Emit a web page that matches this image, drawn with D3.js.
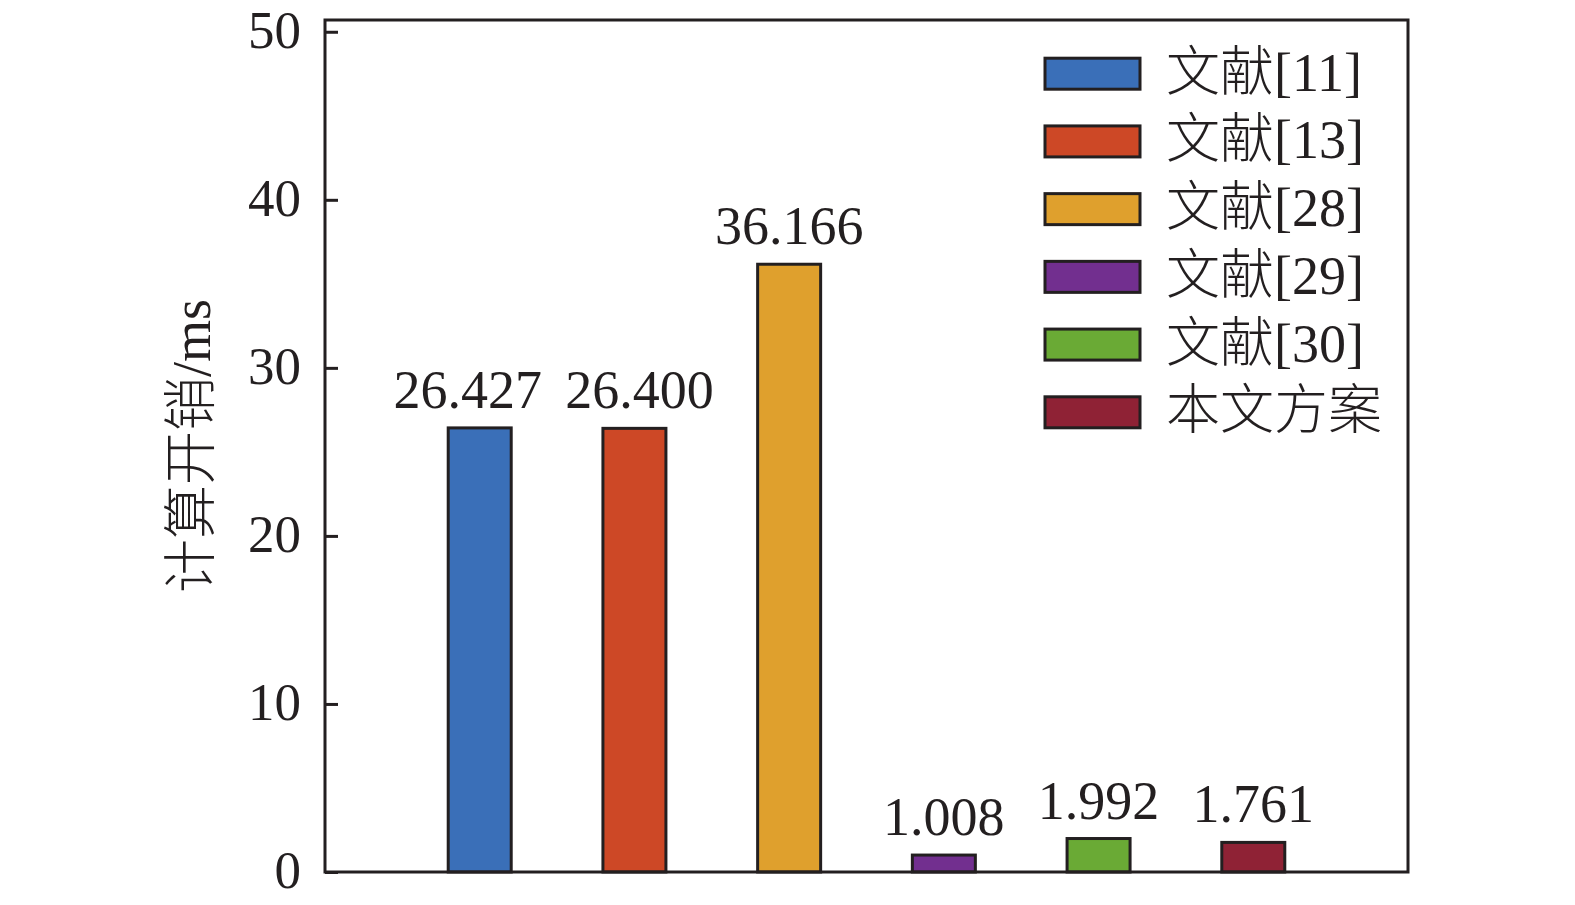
<!DOCTYPE html>
<html>
<head>
<meta charset="utf-8">
<script src="https://cdn.jsdelivr.net/npm/d3@7"></script>
<style>
  html, body { margin: 0; padding: 0; background: #ffffff; }
  svg text { font-family: "Liberation Serif", "Noto Sans CJK SC", serif; fill: #231f20; }
</style>
</head>
<body>
<svg id="chart" width="1575" height="905"></svg>
<script>
const categories = ["文献[11]", "文献[13]", "文献[28]", "文献[29]", "文献[30]", "本文方案"];
const values = [26.427, 26.400, 36.166, 1.008, 1.992, 1.761];
const valueLabels = ["26.427", "26.400", "36.166", "1.008", "1.992", "1.761"];
const colors = ["#3a6fb8", "#cd4826", "#dfa02d", "#722f8f", "#6aaa35", "#8f2235"];
const yTicks = [0, 10, 20, 30, 40, 50];
const yLabel = "计算开销/ms";

(function () {
const svg = d3.select("#chart");
const pLeft = 325, pRight = 1408, pTop = 20, pBottom = 872;
const ink = "#231f20";
// small horizontal nudges of the value labels, as in the original figure
const labelNudge = [-12, 5, 0, 0, 0, 0];

const x = d3.scaleLinear().domain([0, categories.length + 1]).range([pLeft, pRight]);
const y = d3.scaleLinear().domain([0, 50.7]).range([pBottom, pTop]);
const barW = 63;

// bottom ticks (inward, at bar centres)
const xAxis = d3.axisBottom(x).tickValues(d3.range(1, categories.length + 1))
  .tickSize(-13).tickFormat("");
svg.append("g").attr("transform", `translate(0,${pBottom})`).call(xAxis)
  .call(g => g.select(".domain").remove())
  .call(g => g.selectAll("line").attr("stroke", ink).attr("stroke-width", 3));

// bars
svg.append("g").selectAll("rect").data(values).join("rect")
  .attr("x", (d, i) => x(i + 1) - barW / 2)
  .attr("y", d => y(d))
  .attr("width", barW)
  .attr("height", d => y(0) - y(d))
  .attr("fill", (d, i) => colors[i])
  .attr("stroke", ink)
  .attr("stroke-width", 3);

// value labels
svg.append("g").selectAll("text").data(values).join("text")
  .attr("x", (d, i) => x(i + 1) + labelNudge[i])
  .attr("y", d => y(d) - 20)
  .attr("text-anchor", "middle")
  .attr("font-size", 54)
  .text((d, i) => valueLabels[i]);

// y axis
const yAxis = d3.axisLeft(y).tickValues(yTicks).tickSize(-13).tickPadding(24);
const gy = svg.append("g").attr("transform", `translate(${pLeft},0)`).call(yAxis);
gy.select(".domain").remove();
gy.selectAll("line").attr("stroke", ink).attr("stroke-width", 3);
gy.selectAll("text").attr("font-size", 53).attr("font-family", "Liberation Serif").attr("fill", ink).attr("dy", "0.3em");

// frame
svg.append("rect")
  .attr("x", pLeft).attr("y", pTop)
  .attr("width", pRight - pLeft).attr("height", pBottom - pTop)
  .attr("fill", "none").attr("stroke", ink).attr("stroke-width", 3);

// y label
svg.append("text")
  .attr("transform", `translate(210,${(pTop + pBottom) / 2}) rotate(-90)`)
  .attr("text-anchor", "middle")
  .attr("font-size", 54)
  .attr("font-weight", 300)
  .text(yLabel);

// legend
const legY = d3.scaleLinear().domain([0, 5]).range([73.7, 412.3]);
const leg = svg.append("g").selectAll("g").data(categories).join("g")
  .attr("transform", (d, i) => `translate(1045,${legY(i)})`);
leg.append("rect")
  .attr("x", 0).attr("y", -15.5)
  .attr("width", 95).attr("height", 31)
  .attr("fill", (d, i) => colors[i])
  .attr("stroke", ink).attr("stroke-width", 3);
leg.append("text")
  .attr("x", 121).attr("y", 17)
  .attr("font-size", 54)
  .attr("font-weight", 300)
  .text(d => d);
})();
</script>
</body>
</html>
